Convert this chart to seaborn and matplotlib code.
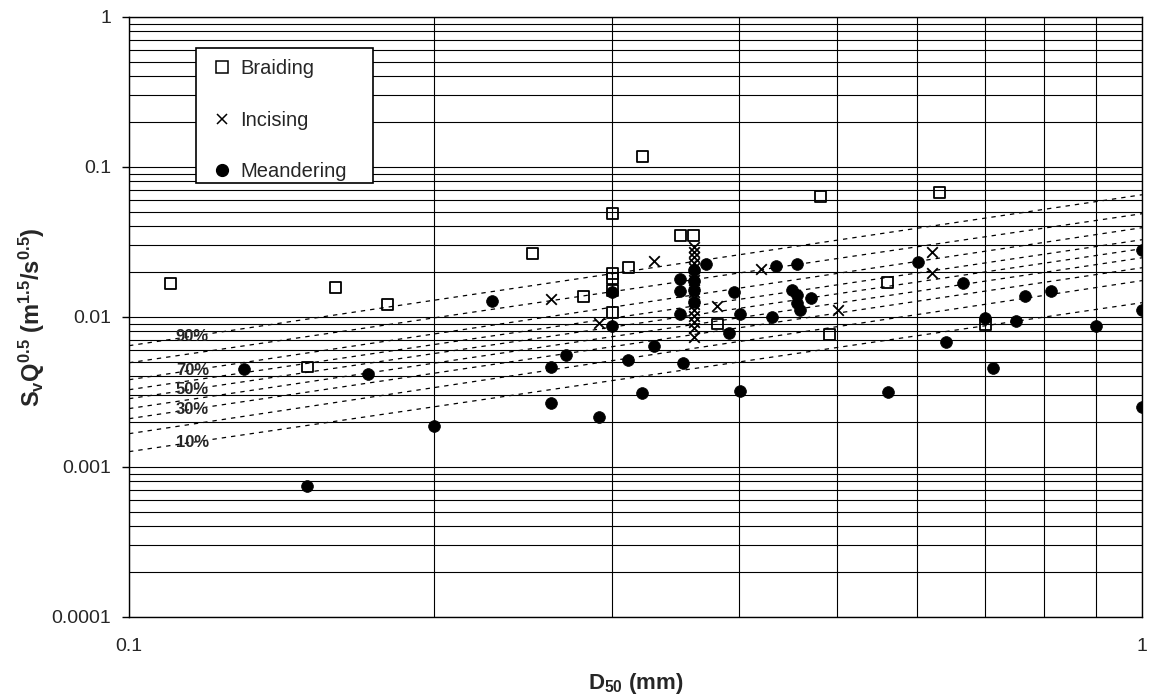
import numpy as np
import pandas as pd
import matplotlib
matplotlib.use("Agg")
import matplotlib.pyplot as plt
import seaborn as sns
from matplotlib.lines import Line2D
from matplotlib.patches import Rectangle
from matplotlib.ticker import FixedLocator, FixedFormatter, LogLocator, NullFormatter

# ---- data -------------------------------------------------------------
# Braiding reaches: median grain size (mm) and stream power index SvQ^0.5
braid_d50 = [0.110, 0.150, 0.160, 0.180, 0.250, 0.281, 0.300, 0.300, 0.300,
             0.300, 0.300, 0.311, 0.321, 0.350, 0.361, 0.381, 0.482, 0.491,
             0.561, 0.631, 0.700]
braid_sq = [0.0167, 0.00462, 0.0157, 0.0121, 0.0264, 0.0137, 0.0489, 0.0193,
            0.0180, 0.0150, 0.0107, 0.0213, 0.1166, 0.0347, 0.0347, 0.00894,
            0.0631, 0.00763, 0.0170, 0.0671, 0.00881]

# Incising reaches
incise_d50 = [0.261, 0.291, 0.330, 0.381, 0.421, 0.501, 0.620, 0.620,
              0.361, 0.361, 0.361, 0.361, 0.361, 0.361, 0.361, 0.361,
              0.361, 0.361, 0.361, 0.361, 0.361, 0.361, 0.361, 0.361]
incise_sq = [0.0131, 0.00908, 0.0235, 0.0118, 0.0208, 0.0111, 0.0271, 0.0195,
             0.0292, 0.0270, 0.0250, 0.0228, 0.0211, 0.0193, 0.0176, 0.0160,
             0.0146, 0.0133, 0.0122, 0.0111, 0.0101, 0.00923, 0.00841, 0.00733]

# Meandering reaches
meander_d50 = [0.130, 0.150, 0.172, 0.200, 0.228, 0.261, 0.270, 0.261, 0.291,
               0.300, 0.300, 0.311, 0.321, 0.330, 0.350, 0.350, 0.350, 0.352,
               0.371, 0.396, 0.401, 0.391, 0.401, 0.431, 0.435, 0.456, 0.451,
               0.456, 0.456, 0.460, 0.471, 0.601, 0.561, 0.641, 0.666, 0.700,
               0.712, 0.751, 0.767, 0.813, 0.900, 1.000, 1.000, 1.000,
               0.361, 0.361, 0.361, 0.361]
meander_sq = [0.00451, 0.000747, 0.00418, 0.00188, 0.0127, 0.00462, 0.00556,
              0.00265, 0.00215, 0.0147, 0.00867, 0.00511, 0.00309, 0.00641,
              0.0179, 0.0149, 0.0104, 0.00489, 0.0225, 0.0146, 0.0105, 0.00775,
              0.00321, 0.0100, 0.0219, 0.0223, 0.0151, 0.0140, 0.0124, 0.0111,
              0.0133, 0.0233, 0.00316, 0.00682, 0.0167, 0.00976, 0.00453,
              0.0094, 0.0138, 0.0149, 0.0087, 0.0278, 0.0110, 0.00251,
              0.0205, 0.0172, 0.0150, 0.0125]

# Percentile lines: value at D50 = 0.1 mm and at D50 = 1 mm
pct_levels = [90, 80, 70, 60, 50, 40, 30, 20, 10]
pct_at_01 = [0.00641, 0.00493, 0.00380, 0.00326, 0.00284, 0.00244, 0.00209,
             0.00166, 0.00126]
pct_at_1 = [0.0650, 0.0486, 0.0392, 0.0326, 0.0284, 0.0247, 0.0212, 0.0174,
            0.0124]
pct_labelled = [90, 70, 50, 30, 10]
pct_label_x = 0.1155

x_ticks = [0.1, 1.0]
x_tick_labels = ["0.1", "1"]
y_ticks = [0.0001, 0.001, 0.01, 0.1, 1.0]
y_tick_labels = ["0.0001", "0.001", "0.01", "0.1", "1"]

# ---- styling ----------------------------------------------------------
sns.set_theme(style="white")
plt.rcParams["font.family"] = ["Liberation Sans", "DejaVu Sans"]
plt.rcParams["mathtext.fontset"] = "custom"
plt.rcParams["mathtext.rm"] = "Liberation Sans"
plt.rcParams["mathtext.bf"] = "Liberation Sans:bold"
plt.rcParams["mathtext.it"] = "Liberation Sans:italic"

W, H = 1161, 697
fig = plt.figure(figsize=(W / 100, H / 100), dpi=100)
ax_left, ax_right, ax_top, ax_bottom = 129, 1142, 16.7, 616.7
ax = fig.add_axes([ax_left / W, 1 - ax_bottom / H,
                   (ax_right - ax_left) / W, (ax_bottom - ax_top) / H])
ax.set_xscale("log")
ax.set_yscale("log")
ax.set_xlim(0.1, 1.0)
ax.set_ylim(0.0001, 1.0)

# grid: every 1..9 step in each decade
ax.xaxis.set_minor_locator(LogLocator(base=10, subs=np.arange(2, 10)))
ax.yaxis.set_minor_locator(LogLocator(base=10, subs=np.arange(2, 10), numticks=20))
ax.xaxis.set_minor_formatter(NullFormatter())
ax.yaxis.set_minor_formatter(NullFormatter())
ax.xaxis.set_major_locator(FixedLocator(x_ticks))
ax.xaxis.set_major_formatter(FixedFormatter(x_tick_labels))
ax.yaxis.set_major_locator(FixedLocator(y_ticks))
ax.yaxis.set_major_formatter(FixedFormatter(y_tick_labels))
ax.grid(which="both", color="black", linewidth=0.8)
ax.set_axisbelow(True)

for side in ax.spines.values():
    side.set_color("black")
    side.set_linewidth(1.0)

ax.tick_params(axis="y", which="major", length=5, width=1, color="black",
               labelsize=14, pad=8, left=True)
ax.tick_params(axis="y", which="minor", length=0)
ax.tick_params(axis="x", which="both", length=0, labelsize=14, pad=15)

# percentile lines
for lvl, a, b in zip(pct_levels, pct_at_01, pct_at_1):
    sns.lineplot(x=[0.1, 1.0], y=[a, b], ax=ax, color="black", linewidth=0.9,
                 linestyle=(0, (3.5, 4)), zorder=2)
    if lvl in pct_labelled:
        slope = np.log10(b / a)
        ly = a * (pct_label_x / 0.1) ** slope
        ax.text(pct_label_x, ly, f"{lvl}%", ha="center", va="center",
                fontsize=12, fontweight="bold", zorder=3)

# data points
sns.scatterplot(x=braid_d50, y=braid_sq, ax=ax, marker="s", s=62,
                color="black", linewidth=1.3, zorder=4, legend=False)
ax.collections[-1].set_facecolor("none")
ax.collections[-1].set_edgecolor("black")

sns.scatterplot(x=incise_d50, y=incise_sq, ax=ax, marker="x", s=58,
                color="black", linewidth=1.3, zorder=4, legend=False)
ax.collections[-1].set_edgecolor("black")

sns.scatterplot(x=meander_d50, y=meander_sq, ax=ax, marker="o", s=72,
                color="black", edgecolor="black", linewidth=0.5, zorder=4,
                legend=False)

ax.set_xlabel(r"$\mathbf{D_{50}}$ (mm)", fontsize=16, fontweight="bold",
              labelpad=12)
ax.set_ylabel(r"$\mathbf{S_{v}Q^{0.5}\ (m^{1.5}/s^{0.5})}$", fontsize=17,
              fontweight="bold", labelpad=3)

# legend box with its own frame
lx0, ly0, lx1, ly1 = 196, 48, 373, 183
to_axes = lambda px, py: ((px - ax_left) / (ax_right - ax_left),
                          (ax_bottom - py) / (ax_bottom - ax_top))
fx0, fy1 = to_axes(lx0, ly1)
fx1, fy0 = to_axes(lx1, ly0)
ax.add_patch(Rectangle((fx0, fy1), fx1 - fx0, fy0 - fy1, transform=ax.transAxes,
                       facecolor="white", edgecolor="black", linewidth=1.2,
                       zorder=5))

handles = [
    Line2D([], [], linestyle="none", marker="s", markersize=8,
           markerfacecolor="none", markeredgecolor="black", markeredgewidth=1.1),
    Line2D([], [], linestyle="none", marker="x", markersize=6.5,
           markeredgecolor="black", markeredgewidth=1.1),
    Line2D([], [], linestyle="none", marker="o", markersize=8.5,
           markerfacecolor="black", markeredgecolor="black"),
]
ax_px = to_axes(lx0 + 8, ly0 + 5)
leg = ax.legend(handles, ["Braiding", "Incising", "Meandering"],
                loc="upper left", bbox_to_anchor=ax_px,
                borderaxespad=0, frameon=False, fontsize=14.5,
                labelspacing=1.62, handletextpad=0.3, borderpad=0.3,
                handlelength=1.2)
leg.set_zorder(6)

fig.savefig("out.png", dpi=100)
